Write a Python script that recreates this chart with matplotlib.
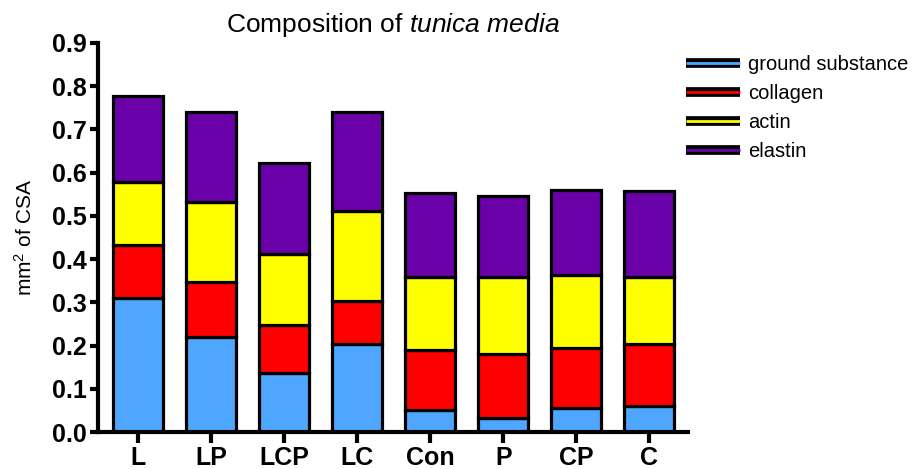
import matplotlib
matplotlib.use("Agg")
import matplotlib.pyplot as plt
from matplotlib.lines import Line2D
from matplotlib.legend_handler import HandlerTuple
import numpy as np

plt.rcParams['font.family'] = ['Liberation Sans', 'DejaVu Sans']
plt.rcParams['mathtext.fontset'] = 'custom'
plt.rcParams['mathtext.rm'] = 'Liberation Sans'
plt.rcParams['mathtext.it'] = 'Liberation Sans:italic'

# data (mm2 of CSA)
groups = ['L', 'LP', 'LCP', 'LC', 'Con', 'P', 'CP', 'C']
ground_substance = [0.311, 0.219, 0.137, 0.203, 0.051, 0.032, 0.056, 0.061]
collagen = [0.122, 0.129, 0.110, 0.101, 0.139, 0.148, 0.138, 0.143]
actin = [0.146, 0.183, 0.165, 0.208, 0.169, 0.179, 0.169, 0.155]
elastin = [0.199, 0.209, 0.210, 0.228, 0.193, 0.188, 0.198, 0.198]

series = [ground_substance, collagen, actin, elastin]
names = ['ground substance', 'collagen', 'actin', 'elastin']
colors = ['#4fa6ff', '#ff0000', '#ffff00', '#6a00a8']

fig = plt.figure(figsize=(9.21, 4.69), dpi=100)
ax = fig.add_axes([98/921, 37/469, 590/921, 389/469])

x = np.arange(len(groups))
bottom = np.zeros(len(groups))
for vals, col in zip(series, colors):
    ax.bar(x, vals, width=0.68, bottom=bottom, color=col,
           edgecolor='black', linewidth=2.3, zorder=2)
    bottom += np.array(vals)

ax.set_xlim(-0.55, 7.53)
ax.set_ylim(0, 0.9)
ax.set_yticks(np.arange(0, 0.91, 0.1))
ax.set_yticklabels(['%.1f' % v for v in np.arange(0, 0.91, 0.1)])
ax.set_xticks(x)
ax.set_xticklabels(groups)

for s in ['top', 'right']:
    ax.spines[s].set_visible(False)
for s in ['left', 'bottom']:
    ax.spines[s].set_linewidth(3)

ax.tick_params(axis='y', length=6, width=3, pad=2, labelsize=18)
ax.tick_params(axis='x', length=8, width=3, pad=2, labelsize=18)
for lab in ax.get_xticklabels() + ax.get_yticklabels():
    lab.set_fontweight('bold')

ax.set_ylabel('mm$^2$ of CSA', fontsize=15, labelpad=12)
ax.set_title('Composition of $\\it{tunica\\ media}$', fontsize=19, pad=8)

handles = [(Line2D([], [], color='black', lw=7, solid_capstyle='butt'),
            Line2D([], [], color=c, lw=2, solid_capstyle='butt')) for c in colors]
fig.legend(handles, names, handler_map={tuple: HandlerTuple(ndivide=1, pad=0)},
           loc='upper left', bbox_to_anchor=(686/921, 1 - 55/469),
           frameon=False, fontsize=14.5, handlelength=2.7, handletextpad=0.4,
           labelspacing=0.5, borderpad=0, borderaxespad=0)

fig.savefig('out.png', dpi=100)
